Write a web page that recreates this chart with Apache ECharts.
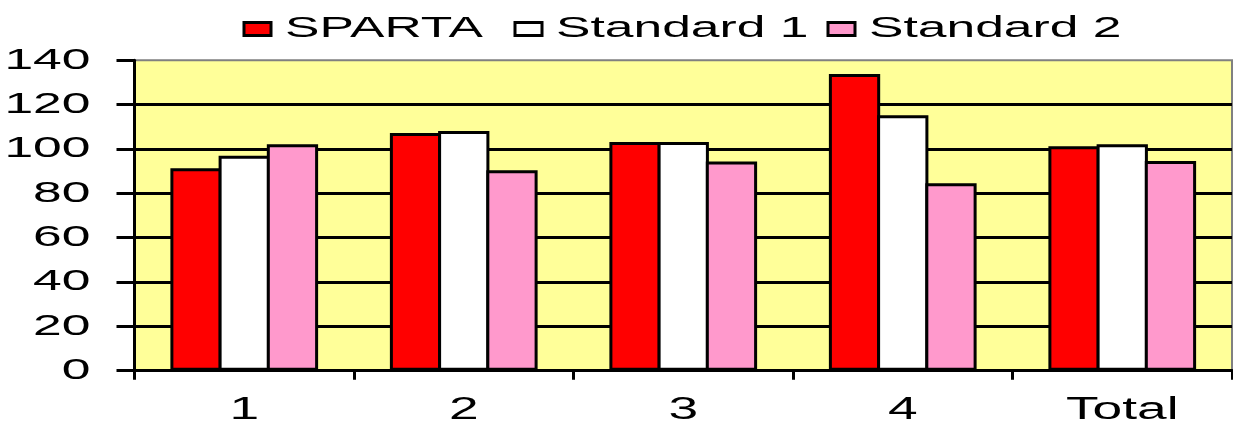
<!DOCTYPE html>
<html>
<head>
<meta charset="utf-8">
<script src="https://cdn.jsdelivr.net/npm/echarts@6/dist/echarts.min.js"></script>
<style>
html,body{margin:0;padding:0;background:#fff;}
#chart{width:1233px;height:423px;}
</style>
</head>
<body>
<div id="chart"></div>
<script>
// Data
const categories = ['1', '2', '3', '4', 'Total'];
const sparta = [91.3, 107.2, 103.2, 133.8, 101.2];
const standard1 = [97.0, 108.1, 103.2, 115.2, 102.1];
const standard2 = [102.1, 90.4, 94.4, 84.5, 94.6];
const seriesNames = ['SPARTA', 'Standard 1', 'Standard 2'];

// The reference uses a horizontally stretched bitmap-like font; emulate by stretching glyphs.
const STRETCH = 1.72;
const origFill = CanvasRenderingContext2D.prototype.fillText;
CanvasRenderingContext2D.prototype.fillText = function (t, x, y) {
  this.save();
  this.translate(x, y);
  this.scale(STRETCH, 1);
  origFill.call(this, t, 0, 0);
  this.restore();
};

const FONT = "'Liberation Sans', Arial, sans-serif";
const chart = echarts.init(document.getElementById('chart'), null, {renderer: 'canvas'});

function legendItem(name, left) {
  return {
    data: [name],
    left: left,
    top: 14,
    padding: 0,
    itemWidth: 27,
    itemHeight: 13,
    icon: 'rect',
    itemStyle: {borderColor: '#000', borderWidth: 3},
    textStyle: {fontFamily: FONT, fontSize: 30, color: '#000', padding: [0, 0, 4, 9]},
    selectedMode: false
  };
}

const barStyle = (c) => ({color: c, borderColor: '#000', borderWidth: 3});
const GAP = '-6%';
const CATGAP = '32.7%';

chart.setOption({
  animation: false,
  backgroundColor: '#ffffff',
  legend: [
    legendItem(seriesNames[0], 242.5),
    legendItem(seriesNames[1], 513.5),
    legendItem(seriesNames[2], 826.5)
  ],
  grid: {
    left: 134.5, right: 1, top: 60.3, bottom: 52.3,
    show: true, backgroundColor: '#FFFF99', borderColor: '#808080', borderWidth: 2,
    containLabel: false,
    outerBoundsMode: 'none'
  },
  xAxis: {
    type: 'category',
    data: categories,
    axisLine: {show: true, lineStyle: {color: '#000', width: 3}},
    axisTick: {show: true, length: 9, lineStyle: {color: '#000', width: 3}},
    axisLabel: {fontFamily: FONT, fontSize: 31, color: '#000', margin: 24},
    splitLine: {show: false}
  },
  yAxis: {
    type: 'value',
    min: 0, max: 140, interval: 20,
    axisLine: {show: true, lineStyle: {color: '#000', width: 3}},
    axisTick: {show: true, length: 18, lineStyle: {color: '#000', width: 3}},
    axisLabel: {fontFamily: FONT, fontSize: 30, color: '#000', margin: 44},
    splitLine: {show: true, showMinLine: false, showMaxLine: false, lineStyle: {color: '#000', width: 3}}
  },
  series: [
    {name: seriesNames[0], type: 'bar', data: sparta, itemStyle: barStyle('#FF0000'), barGap: GAP, barCategoryGap: CATGAP},
    {name: seriesNames[1], type: 'bar', data: standard1, itemStyle: barStyle('#FFFFFF'), barGap: GAP, barCategoryGap: CATGAP},
    {name: seriesNames[2], type: 'bar', data: standard2, itemStyle: barStyle('#FF99CC'), barGap: GAP, barCategoryGap: CATGAP}
  ]
});
</script>
</body>
</html>
